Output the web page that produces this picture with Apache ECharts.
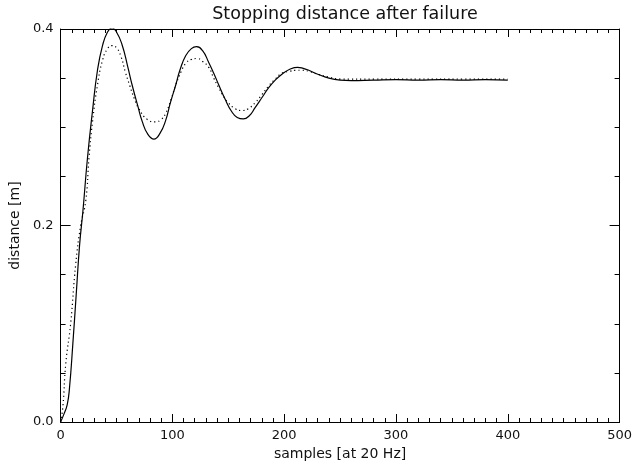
<!DOCTYPE html>
<html>
<head>
<meta charset="utf-8">
<script src="https://cdn.jsdelivr.net/npm/echarts@6/dist/echarts.min.js"></script>
<style>html,body{margin:0;padding:0;background:#fff;overflow:hidden}#c{width:635px;height:466px}</style>
</head>
<body>
<div id="c"></div>
<script>
var titleText = 'Stopping distance after failure';
var xName = 'samples [at 20 Hz]';
var yName = 'distance [m]';
var xTicks = [0, 100, 200, 300, 400, 500];
var yTicks = [0.0, 0.2, 0.4];

var solidX = [0, 3, 6, 8, 11, 14, 17, 20, 24, 28.5, 33, 37.5, 42, 46, 50, 55, 60, 64, 69, 73, 78, 83.5, 89, 94, 98, 103, 107, 112, 117, 121.5, 127, 132.5, 137, 141.5, 147, 153, 158, 163.5, 169, 174, 180, 186, 192, 198, 205, 212, 217, 222, 230, 240, 250, 260, 280, 300, 320, 340, 360, 380, 400];
var solidY = [0, 0.008, 0.018, 0.035, 0.08, 0.13, 0.18, 0.215, 0.268, 0.316, 0.358, 0.383, 0.397, 0.401, 0.397, 0.384, 0.362, 0.343, 0.322, 0.306, 0.293, 0.288, 0.294, 0.307, 0.324, 0.343, 0.359, 0.373, 0.380, 0.382, 0.378, 0.366, 0.355, 0.343, 0.329, 0.316, 0.310, 0.3085, 0.312, 0.320, 0.330, 0.340, 0.348, 0.354, 0.359, 0.361, 0.360, 0.358, 0.354, 0.350, 0.348, 0.3475, 0.348, 0.3485, 0.348, 0.3485, 0.348, 0.3485, 0.348];

var dottedX = [0, 2, 4.7, 9, 13.5, 18, 22.5, 25.5, 28.5, 33, 37.5, 42, 46, 50, 54, 58, 62, 66, 70, 77.5, 85, 90, 94, 99, 103, 108, 112, 117, 122, 127, 132.5, 137, 141.5, 146, 150, 156, 162, 168, 174, 180, 186, 192, 198, 205, 210, 216, 222, 230, 240, 250, 280, 320, 360, 400];
var dottedY = [0, 0.015, 0.06, 0.10, 0.16, 0.20, 0.225, 0.27, 0.305, 0.343, 0.368, 0.380, 0.383, 0.381, 0.372, 0.356, 0.342, 0.329, 0.319, 0.308, 0.3055, 0.308, 0.314, 0.329, 0.343, 0.357, 0.365, 0.369, 0.370, 0.367, 0.361, 0.350, 0.340, 0.331, 0.325, 0.319, 0.317, 0.319, 0.325, 0.333, 0.342, 0.349, 0.355, 0.357, 0.358, 0.358, 0.357, 0.354, 0.351, 0.349, 0.349, 0.349, 0.349, 0.349];

function pairs(xs, ys) { return xs.map(function (x, i) { return [x, ys[i]]; }); }

var font = 'DejaVu Sans';
var axisCommon = {
  axisLine: { show: true, onZero: false, lineStyle: { color: '#000', width: 1 } },
  splitLine: { show: false },
  minorSplitLine: { show: false }
};

var chart = echarts.init(document.getElementById('c'), null, { renderer: 'canvas', width: 635, height: 466 });
chart.setOption({
  animation: false,
  backgroundColor: '#fff',
  title: {
    text: titleText, left: 340, top: 0, textAlign: 'center',
    textStyle: { fontFamily: font, fontSize: 17.5, fontWeight: 'normal', color: '#111' }
  },
  grid: { left: 58, right: 14, top: 29, bottom: 37, containLabel: false },
  xAxis: [
    Object.assign({}, axisCommon, {
      type: 'value', position: 'bottom', min: xTicks[0], max: xTicks[xTicks.length - 1], interval: 100,
      axisTick: { show: true, inside: true, length: 8, lineStyle: { color: '#000' } },
      minorTick: { show: true, splitNumber: 10, length: 4, lineStyle: { color: '#000' } },
      axisLabel: { margin: 7, fontFamily: font, fontSize: 13, color: '#111' },
      name: xName, nameLocation: 'middle', nameGap: 25,
      nameTextStyle: { fontFamily: font, fontSize: 14, color: '#111' }
    }),
    Object.assign({}, axisCommon, {
      type: 'value', position: 'top', min: xTicks[0], max: xTicks[xTicks.length - 1], interval: 100,
      axisTick: { show: true, inside: true, length: 8, lineStyle: { color: '#000' } },
      minorTick: { show: true, splitNumber: 10, length: 4, lineStyle: { color: '#000' } },
      axisLabel: { show: false }
    })
  ],
  yAxis: [
    Object.assign({}, axisCommon, {
      type: 'value', position: 'left', min: yTicks[0], max: yTicks[yTicks.length - 1], interval: 0.2,
      axisTick: { show: true, inside: true, length: 10, lineStyle: { color: '#000' } },
      minorTick: { show: true, splitNumber: 4, length: 5, lineStyle: { color: '#000' } },
      axisLabel: { margin: 7, fontFamily: font, fontSize: 13, color: '#111', formatter: function (v) { return v.toFixed(1); } },
      name: yName, nameLocation: 'middle', nameGap: 34, nameRotate: 90,
      nameTextStyle: { fontFamily: font, fontSize: 14, color: '#111' }
    }),
    Object.assign({}, axisCommon, {
      type: 'value', position: 'right', min: yTicks[0], max: yTicks[yTicks.length - 1], interval: 0.2,
      axisTick: { show: true, inside: true, length: 10, lineStyle: { color: '#000' } },
      minorTick: { show: true, splitNumber: 4, length: 5, lineStyle: { color: '#000' } },
      axisLabel: { show: false }
    })
  ],
  series: [
    {
      type: 'line', xAxisIndex: 0, yAxisIndex: 0, data: pairs(solidX, solidY),
      showSymbol: false, smooth: 0.5, silent: true,
      lineStyle: { color: '#000', width: 1.2 }
    },
    {
      type: 'line', xAxisIndex: 0, yAxisIndex: 0, data: pairs(dottedX, dottedY),
      showSymbol: false, smooth: 0.5, silent: true,
      lineStyle: { color: '#000', width: 1.2, type: [1.2, 3] }
    }
  ]
});
</script>
</body>
</html>
